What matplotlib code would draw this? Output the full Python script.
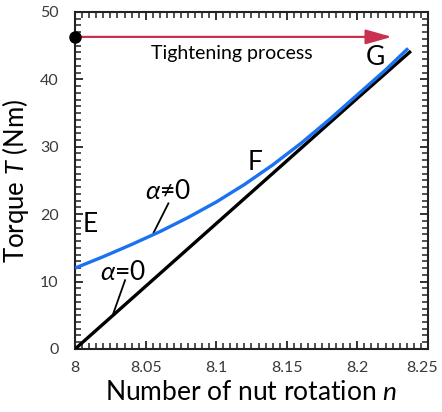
#%%### Imports
import numpy as np
import matplotlib as mpl
import matplotlib.pyplot as plt
from matplotlib.ticker import MultipleLocator

#%%### Data
## alpha = 0 (black)
n_a0 = [8.0, 8.05, 8.1, 8.15, 8.2, 8.238]
T_a0 = [0.0, 9.3, 18.6, 27.9, 37.2, 44.2]
## alpha != 0 (blue)
n_a1 = [8.0, 8.02, 8.04, 8.06, 8.08, 8.1, 8.12, 8.14, 8.16, 8.18, 8.2, 8.22, 8.236]
T_a1 = [12.0, 13.7, 15.5, 17.4, 19.5, 21.8, 24.4, 27.3, 30.5, 34.0, 37.7, 41.4, 44.6]

xticks = [8.0, 8.05, 8.1, 8.15, 8.2, 8.25]
xticklabels = ['8', '8.05', '8.1', '8.15', '8.2', '8.25']
yticks = [0, 10, 20, 30, 40, 50]

#%%### Style
plt.rcParams['font.family'] = ['Lato', 'DejaVu Sans']
plt.rcParams['mathtext.fontset'] = 'custom'
plt.rcParams['mathtext.rm'] = 'Lato'
plt.rcParams['mathtext.it'] = 'Lato:italic'
axcol = '#222222'
for a in ['xtick', 'ytick']:
    plt.rcParams[f'{a}.direction'] = 'in'
    plt.rcParams[f'{a}.major.size'] = 6
    plt.rcParams[f'{a}.minor.size'] = 4
    plt.rcParams[f'{a}.major.width'] = 1.3
    plt.rcParams[f'{a}.minor.width'] = 1.1
    plt.rcParams[f'{a}.minor.visible'] = True
    plt.rcParams[f'{a}.color'] = axcol
plt.rcParams['xtick.top'] = True
plt.rcParams['ytick.right'] = True

blue = '#1a72f0'
red = '#c8324f'
tickcol = '#3a3a3a'

#%%### Plot
f = plt.figure(figsize=(4.42, 4.12), dpi=100)
ax = f.add_axes([0.170, 0.153, 0.798, 0.818])

ax.plot(n_a0, T_a0, color='k', lw=2.4, solid_capstyle='butt', zorder=3)
ax.plot(n_a1, T_a1, color=blue, lw=2.4, solid_capstyle='butt', zorder=4)

ax.set_xlim(8.0, 8.25)
ax.set_ylim(0, 50)
ax.set_xticks(xticks)
ax.set_xticklabels(xticklabels)
ax.set_yticks(yticks)
ax.xaxis.set_minor_locator(MultipleLocator(0.005))
ax.yaxis.set_minor_locator(MultipleLocator(1))
ax.tick_params(which='major', labelsize=11.5, labelcolor=tickcol)
ax.tick_params(axis='x', which='major', pad=9)
ax.tick_params(axis='y', which='major', pad=12)
for s in ax.spines.values():
    s.set_linewidth(1.5)
    s.set_color(axcol)
## nudge the last x label so it stays inside the figure
lbl = ax.get_xticklabels()[-1]
lbl.set_transform(lbl.get_transform()
                  + mpl.transforms.ScaledTranslation(-6/100, 0, f.dpi_scale_trans))

## Tightening process arrow
ax.annotate('', xy=(8.2245, 46.3), xytext=(8.0, 46.3),
            arrowprops=dict(arrowstyle='-|>,head_length=1.6,head_width=0.45',
                            color=red, lw=1.6, shrinkA=0, shrinkB=0))
ax.plot([8.0], [46.3], 'o', color='k', ms=8, clip_on=False, zorder=6)
ax.text(8.111, 43.9, 'Tightening process', ha='center', va='center', fontsize=14)

## Point labels
ax.text(8.0106, 18.4, 'E', ha='center', va='center', fontsize=19)
ax.text(8.1275, 27.6, 'F', ha='center', va='center', fontsize=19)
ax.text(8.2125, 43.2, 'G', ha='center', va='center', fontsize=19)

## Alpha labels with leader lines
ax.text(8.066, 23.3, r'$\alpha$≠0', ha='center', va='center', fontsize=19)
ax.plot([8.0661, 8.0555], [21.6, 17.2], color='k', lw=1.3)
ax.text(8.034, 11.3, r'$\alpha$=0', ha='center', va='center', fontsize=19)
ax.plot([8.0354, 8.0271], [10.2, 5.3], color='k', lw=1.3)

ax.set_xlabel(r'Number of nut rotation $n$', fontsize=19, labelpad=3)
ax.set_ylabel(r'Torque $T$ (Nm)', fontsize=18.5, labelpad=6)

plt.savefig('out.png', dpi=100)
